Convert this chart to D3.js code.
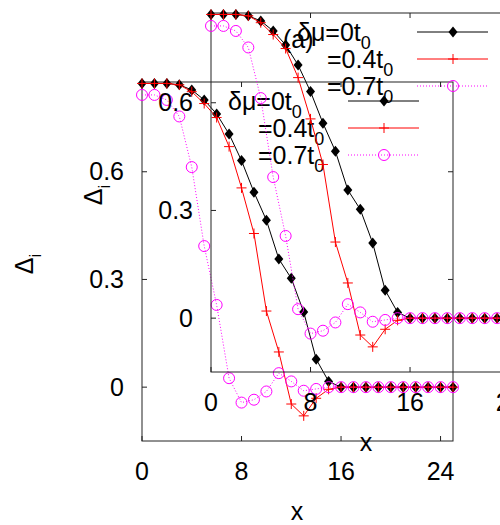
<!DOCTYPE html>
<html>
<head>
    <meta charset="utf-8">
    <title>Delta_i vs x</title>
    <script src="https://d3js.org/d3.v7.min.js"></script>
    <style>
        body { margin: 0; background: #fff; }
        text { font-family: "Liberation Sans", Arial, sans-serif; }
    </style>
</head>
<body>
    <div id="chart"></div>
    <script>
        // data, x = 0..25
        var xs = d3.range(0, 26);
        var mu0  = [0.846,0.846,0.846,0.842,0.828,0.800,0.761,0.705,0.631,0.543,0.465,0.357,0.303,0.209,0.078,0.016,0,0,0,0,0,0,0,0,0,0];
        var mu04 = [0.846,0.846,0.846,0.842,0.823,0.790,0.751,0.670,0.555,0.428,0.212,0.098,-0.047,-0.080,-0.031,-0.006,0,0,0,0,0,0,0,0,0,0];
        var mu07 = [0.814,0.814,0.800,0.754,0.613,0.393,0.229,0.025,-0.043,-0.035,-0.012,0.039,0.016,-0.010,-0.005,0,0,0,0,0,0,0,0,0,0,0];
        var xTicks = [0, 8, 16, 24];
        var yTicks = [0, 0.3, 0.6];
        var legendNames = ["0", "0.4", "0.7"];

        var width = 500, height = 525;

        var svg = d3.select("#chart").append("svg")
            .attr("width", width)
            .attr("height", height);

        svg.append("rect").attr("width", width).attr("height", height).attr("fill", "#fff");

        var x = d3.scaleLinear().domain([0, 25]).range([142, 453]);
        var y = d3.scaleLinear().domain([-0.15, 0.85]).range([441, 82]);

        var series = [
            {vals: mu0,  color: "#000",    dash: null,  mark: "diamond"},
            {vals: mu04, color: "#ff0000", dash: null,  mark: "plus"},
            {vals: mu07, color: "#ff00ff", dash: "1,2", mark: "circle"}
        ];

        function marker(g, type, color) {
            if (type == "diamond") {
                g.append("path").attr("d", "M0,-5.5L4.5,0L0,5.5L-4.5,0Z").attr("fill", color);
            } else if (type == "plus") {
                g.append("path").attr("d", "M-5,0H5M0,-5V5").attr("stroke", color).attr("stroke-width", 1);
            } else {
                g.append("circle").attr("r", 5.5).attr("fill", "none").attr("stroke", color).attr("stroke-width", 1);
            }
        }

        function panel(g, showTag) {
            // frame
            g.append("rect")
                .attr("x", x(0)).attr("y", y(0.85))
                .attr("width", x(25) - x(0)).attr("height", y(-0.15) - y(0.85))
                .attr("fill", "none").attr("stroke", "#222").attr("stroke-width", 1);

            // ticks, inward on all four sides
            xTicks.forEach(function(t){
                g.append("line").attr("x1", x(t)).attr("x2", x(t)).attr("y1", y(-0.15)).attr("y2", y(-0.15) - 5).attr("stroke", "#222");
                g.append("line").attr("x1", x(t)).attr("x2", x(t)).attr("y1", y(0.85)).attr("y2", y(0.85) + 5).attr("stroke", "#222");
                g.append("text").attr("x", x(t)).attr("y", 480)
                    .attr("text-anchor", "middle").attr("font-size", 25).text(t);
            });
            yTicks.forEach(function(t){
                g.append("line").attr("x1", x(0)).attr("x2", x(0) + 5).attr("y1", y(t)).attr("y2", y(t)).attr("stroke", "#222");
                g.append("line").attr("x1", x(25)).attr("x2", x(25) - 5).attr("y1", y(t)).attr("y2", y(t)).attr("stroke", "#222");
                g.append("text").attr("x", 124).attr("y", y(t) + 8.5)
                    .attr("text-anchor", "end").attr("font-size", 25).text(t);
            });

            // axis titles
            g.append("text").attr("x", 297).attr("y", 520)
                .attr("text-anchor", "middle").attr("font-size", 25).text("x");
            var yl = g.append("text").attr("transform", "translate(33,264) rotate(-90)")
                .attr("text-anchor", "middle").attr("font-size", 25);
            yl.append("tspan").text("Δ");
            yl.append("tspan").attr("font-size", 17).attr("dy", 8).text("i");

            if (showTag) {
                g.append("text").attr("x", 214).attr("y", 117).attr("font-size", 25).text("(a)");
            }

            // curves
            var line = d3.line().x(function(d){ return x(d[0]); }).y(function(d){ return y(d[1]); });
            series.forEach(function(s){
                var pts = xs.map(function(v, i){ return [v, s.vals[i]]; });
                g.append("path").datum(pts).attr("d", line)
                    .attr("fill", "none").attr("stroke", s.color).attr("stroke-width", 1)
                    .attr("stroke-dasharray", s.dash);
                pts.forEach(function(p){
                    marker(g.append("g").attr("transform", "translate(" + x(p[0]) + "," + y(p[1]) + ")"), s.mark, s.color);
                });
            });

            // legend
            var lx = [228, 258, 258], ly = [101, 128, 155];
            series.forEach(function(s, i){
                var t = g.append("text").attr("x", lx[i]).attr("y", ly[i] + 8.5).attr("font-size", 25);
                t.append("tspan").text((i == 0 ? "δμ=" : "=") + legendNames[i] + "t");
                t.append("tspan").attr("font-size", 18).attr("dy", 8).text("0");
                g.append("line").attr("x1", 348).attr("x2", 419).attr("y1", ly[i]).attr("y2", ly[i])
                    .attr("stroke", s.color).attr("stroke-width", 1).attr("stroke-dasharray", s.dash);
                marker(g.append("g").attr("transform", "translate(384," + ly[i] + ")"), s.mark, s.color);
            });
        }

        panel(svg.append("g"), false);
        panel(svg.append("g").attr("transform", "translate(69,-69)"), true);
    </script>
</body>
</html>
